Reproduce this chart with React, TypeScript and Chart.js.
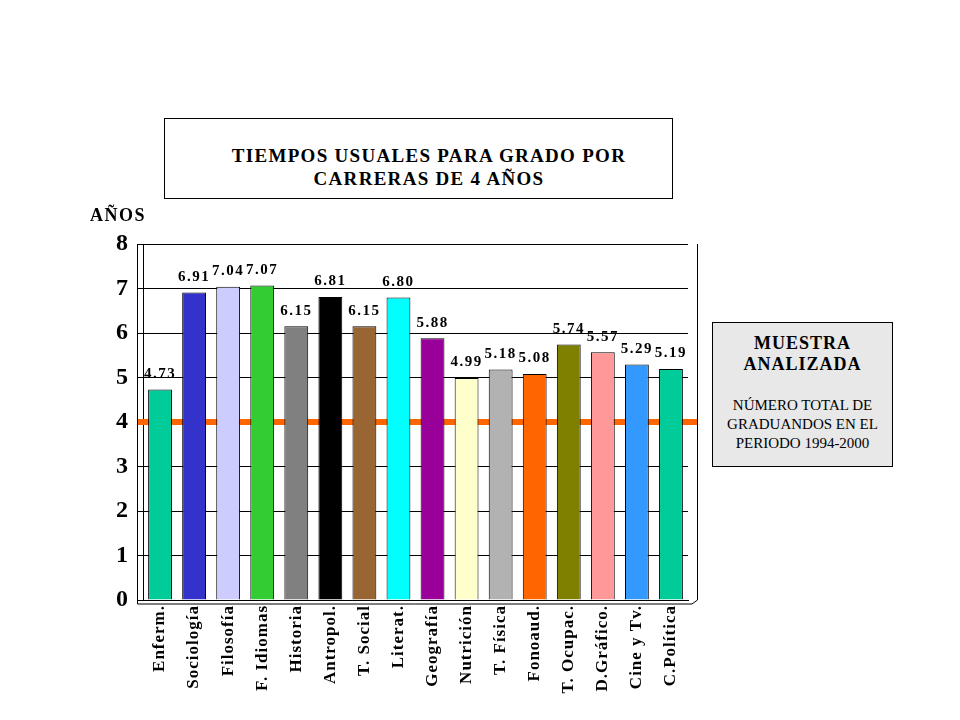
import React, { useEffect, useRef } from "react";
import { Chart, registerables } from "chart.js";

Chart.register(...registerables);

const categories = [
  "Enferm.", "Sociología", "Filosofía", "F. Idiomas", "Historia", "Antropol.",
  "T. Social", "Literat.", "Geografía", "Nutrición", "T. Física", "Fonoaud.",
  "T. Ocupac.", "D.Gráfico.", "Cine y Tv.", "C.Política",
];
const values = [4.73, 6.91, 7.04, 7.07, 6.15, 6.81, 6.15, 6.8, 5.88, 4.99, 5.18, 5.08, 5.74, 5.57, 5.29, 5.19];
const barColors = [
  "#00CC99", "#3333CC", "#CCCCFF", "#33CC33", "#808080", "#000000",
  "#996633", "#00FFFF", "#990099", "#FFFFCC", "#B2B2B2", "#FF6600",
  "#808000", "#FF9999", "#3399FF", "#00CC99",
];
const yTicks = [0, 1, 2, 3, 4, 5, 6, 7, 8];
const referenceValue = 4;

const titleLines = ["TIEMPOS USUALES PARA GRADO POR", "CARRERAS DE 4 AÑOS"];
const yAxisTitle = "AÑOS";
const noteTitle = ["MUESTRA", "ANALIZADA"];
const noteBody = ["NÚMERO TOTAL DE", "GRADUANDOS EN EL", "PERIODO 1994-2000"];

const SERIF = "'Liberation Serif', 'Times New Roman', serif";

export default function App() {
  const ref = useRef<HTMLCanvasElement | null>(null);

  useEffect(() => {
    if (!ref.current) return;
    const spacing = {
      id: "spacing",
      beforeUpdate(chart: any) {
        chart.ctx.letterSpacing = "1px";
      },
      beforeDraw(chart: any) {
        chart.ctx.letterSpacing = "1px";
      },
    };
    const refLine = {
      id: "refLine",
      beforeDatasetsDraw(chart: any) {
        const { ctx, chartArea, scales } = chart;
        const y = scales.y.getPixelForValue(referenceValue);
        ctx.save();
        ctx.strokeStyle = "#FF6600";
        ctx.lineWidth = 6;
        ctx.beginPath();
        ctx.moveTo(chartArea.left - 6, y);
        ctx.lineTo(chartArea.right + 9, y);
        ctx.stroke();
        ctx.restore();
      },
      afterDraw(chart: any) {
        const { ctx, chartArea } = chart;
        ctx.save();
        ctx.strokeStyle = "#000";
        ctx.lineWidth = 1;
        ctx.beginPath();
        ctx.moveTo(chartArea.right + 9.5, chartArea.top);
        ctx.lineTo(chartArea.right + 9.5, chartArea.bottom);
        ctx.moveTo(chartArea.left - 5.5, chartArea.top);
        ctx.lineTo(chartArea.left - 5.5, chartArea.bottom + 4);
        ctx.lineTo(chartArea.right + 4, chartArea.bottom + 4);
        ctx.lineTo(chartArea.right + 9.5, chartArea.bottom);
        ctx.stroke();
        ctx.restore();
      },
    };
    const valueLabels = {
      id: "valueLabels",
      afterDatasetsDraw(chart: any) {
        const { ctx } = chart;
        const meta = chart.getDatasetMeta(0);
        ctx.save();
        ctx.font = `bold 15px ${SERIF}`;
        ctx.letterSpacing = "1.5px";
        ctx.fillStyle = "#000";
        ctx.textAlign = "center";
        ctx.textBaseline = "bottom";
        meta.data.forEach((bar: any, i: number) => {
          ctx.fillText(values[i].toFixed(2), bar.x, bar.y - 8);
        });
        ctx.restore();
      },
    };

    const chart = new Chart(ref.current, {
      type: "bar",
      data: {
        labels: categories,
        datasets: [
          {
            data: values,
            backgroundColor: barColors,
            borderColor: "#000",
            borderWidth: 1,
            barPercentage: 0.7,
            categoryPercentage: 1,
          },
        ],
      },
      options: {
        responsive: false,
        animation: false,
        layout: { padding: { top: 244, right: 272, left: 0, bottom: 0 } },
        plugins: { legend: { display: false }, tooltip: { enabled: false }, title: { display: false } },
        scales: {
          x: {
            grid: { display: false, drawTicks: false },
            border: { color: "#000", width: 1 },
            ticks: {
              color: "#000",
              font: { family: SERIF, size: 17, weight: "bold" },
              maxRotation: 90,
              minRotation: 90,
              padding: 5,
              autoSkip: false,
            },
            afterFit(s: any) {
              s.height = 120;
            },
          },
          y: {
            min: 0,
            max: 8,
            afterBuildTicks(s: any) {
              s.ticks = yTicks.map((v) => ({ value: v }));
            },
            grid: { color: "#000", lineWidth: 1, tickLength: 5, drawTicks: true },
            border: { color: "#000", width: 1 },
            ticks: {
              color: "#000",
              font: { family: SERIF, size: 24, weight: "bold" },
              padding: 9,
            },
            afterFit(s: any) {
              s.width = 143;
            },
          },
        },
      },
      plugins: [spacing, refLine, valueLabels],
    });
    return () => chart.destroy();
  }, []);

  return (
    <div style={{ position: "absolute", left: 0, top: 0, width: 960, height: 720, background: "#fff", fontFamily: SERIF, color: "#000" }}>
      <canvas ref={ref} width={960} height={720} style={{ position: "absolute", left: 0, top: 0, width: 960, height: 720 }} />
      <div
        style={{
          position: "absolute", left: 164, top: 118, width: 507, height: 79,
          border: "1px solid #000", boxSizing: "content-box", background: "#fff",
          textAlign: "center", fontWeight: "bold", fontSize: 19, lineHeight: "23px", letterSpacing: "1.3px",
        }}
      >
        <div style={{ paddingTop: 25, paddingLeft: 21 }}>
          {titleLines.map((t) => (<div key={t}>{t}</div>))}
        </div>
      </div>
      <div style={{ position: "absolute", left: 90, top: 204, fontWeight: "bold", fontSize: 18, lineHeight: "22px", letterSpacing: "1.5px" }}>{yAxisTitle}</div>
      <div
        style={{
          position: "absolute", left: 712, top: 322, width: 179, height: 143,
          border: "1px solid #000", background: "#E8E8E8", textAlign: "center",
        }}
      >
        <div style={{ paddingTop: 10, fontWeight: "bold", fontSize: 18, lineHeight: "21px", letterSpacing: "1px" }}>
          {noteTitle.map((t) => (<div key={t}>{t}</div>))}
        </div>
        <div style={{ marginTop: 21, fontSize: 15, lineHeight: "19px" }}>
          {noteBody.map((t) => (<div key={t}>{t}</div>))}
        </div>
      </div>
    </div>
  );
}
